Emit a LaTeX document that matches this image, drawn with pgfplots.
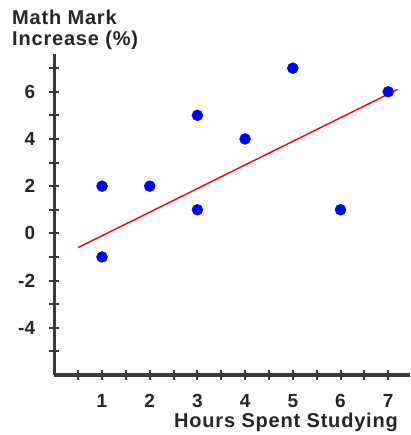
\documentclass[border=0pt]{standalone}
\usepackage{pgfplots}
\pgfplotsset{compat=1.18}
\usepackage{fontspec}
\setmainfont{Liberation Sans}
\definecolor{axgray}{HTML}{3A3A3A}
\definecolor{txt}{HTML}{262626}
\begin{document}
\begin{tikzpicture}
\useasboundingbox (-54.3pt,-60pt) rectangle (355.7pt,375pt);
\begin{axis}[
  at={(0pt,0pt)}, anchor=south west,
  scale only axis, width=355.7pt, height=321pt,
  xmin=0, xmax=7.457, ymin=-6, ymax=7.6,
  axis x line=bottom, axis y line=left,
  axis line style={-, line width=3.3pt, color=axgray},
  xtick={1,2,3,4,5,6,7}, xticklabels={1,2,3,4,5,6,7},
  minor xtick={0.5,1.5,2.5,3.5,4.5,5.5,6.5},
  ytick={-4,-2,0,2,4,6}, yticklabels={-4,-2,0,2,4,6},
  minor ytick={-5,-3,-1,1,3,5,7},
  tick align=center,
  major tick length=10pt, minor tick length=10pt,
  every tick/.style={line width=2pt, color=axgray},
  every minor tick/.append style={line width=2pt, color=axgray},
  every tick label/.append style={font=\fontsize{19}{19}\selectfont\bfseries, text=txt, inner sep=0pt},
  yticklabel style={xshift=-14pt},
  xticklabel style={yshift=-14pt},
  clip=false,
]
\addplot[red, line width=1.4pt] coordinates {(0.5,-0.6) (7.2,6.1)};
\addplot[only marks, mark=*, mark size=5.5pt, mark options={draw=blue, fill=blue}] coordinates {
  (1,2) (1,-1) (2,2) (3,5) (3,1) (4,4) (5,7) (6,1) (7,6)
};
\end{axis}
\node[anchor=base west, inner sep=0pt, text=txt,
      font=\fontsize{20}{18}\selectfont\bfseries\addfontfeatures{LetterSpace=4}]
  at (-42.3pt,350.5pt) {Math Mark};
\node[anchor=base west, inner sep=0pt, text=txt,
      font=\fontsize{20}{18}\selectfont\bfseries\addfontfeatures{LetterSpace=4}]
  at (-42.3pt,329pt) {Increase (\%)};
\node[anchor=base east, inner sep=0pt, text=txt,
      font=\fontsize{20}{17}\selectfont\bfseries\addfontfeatures{LetterSpace=4}]
  at (343.7pt,-52pt) {Hours Spent Studying};
\end{tikzpicture}
\end{document}
